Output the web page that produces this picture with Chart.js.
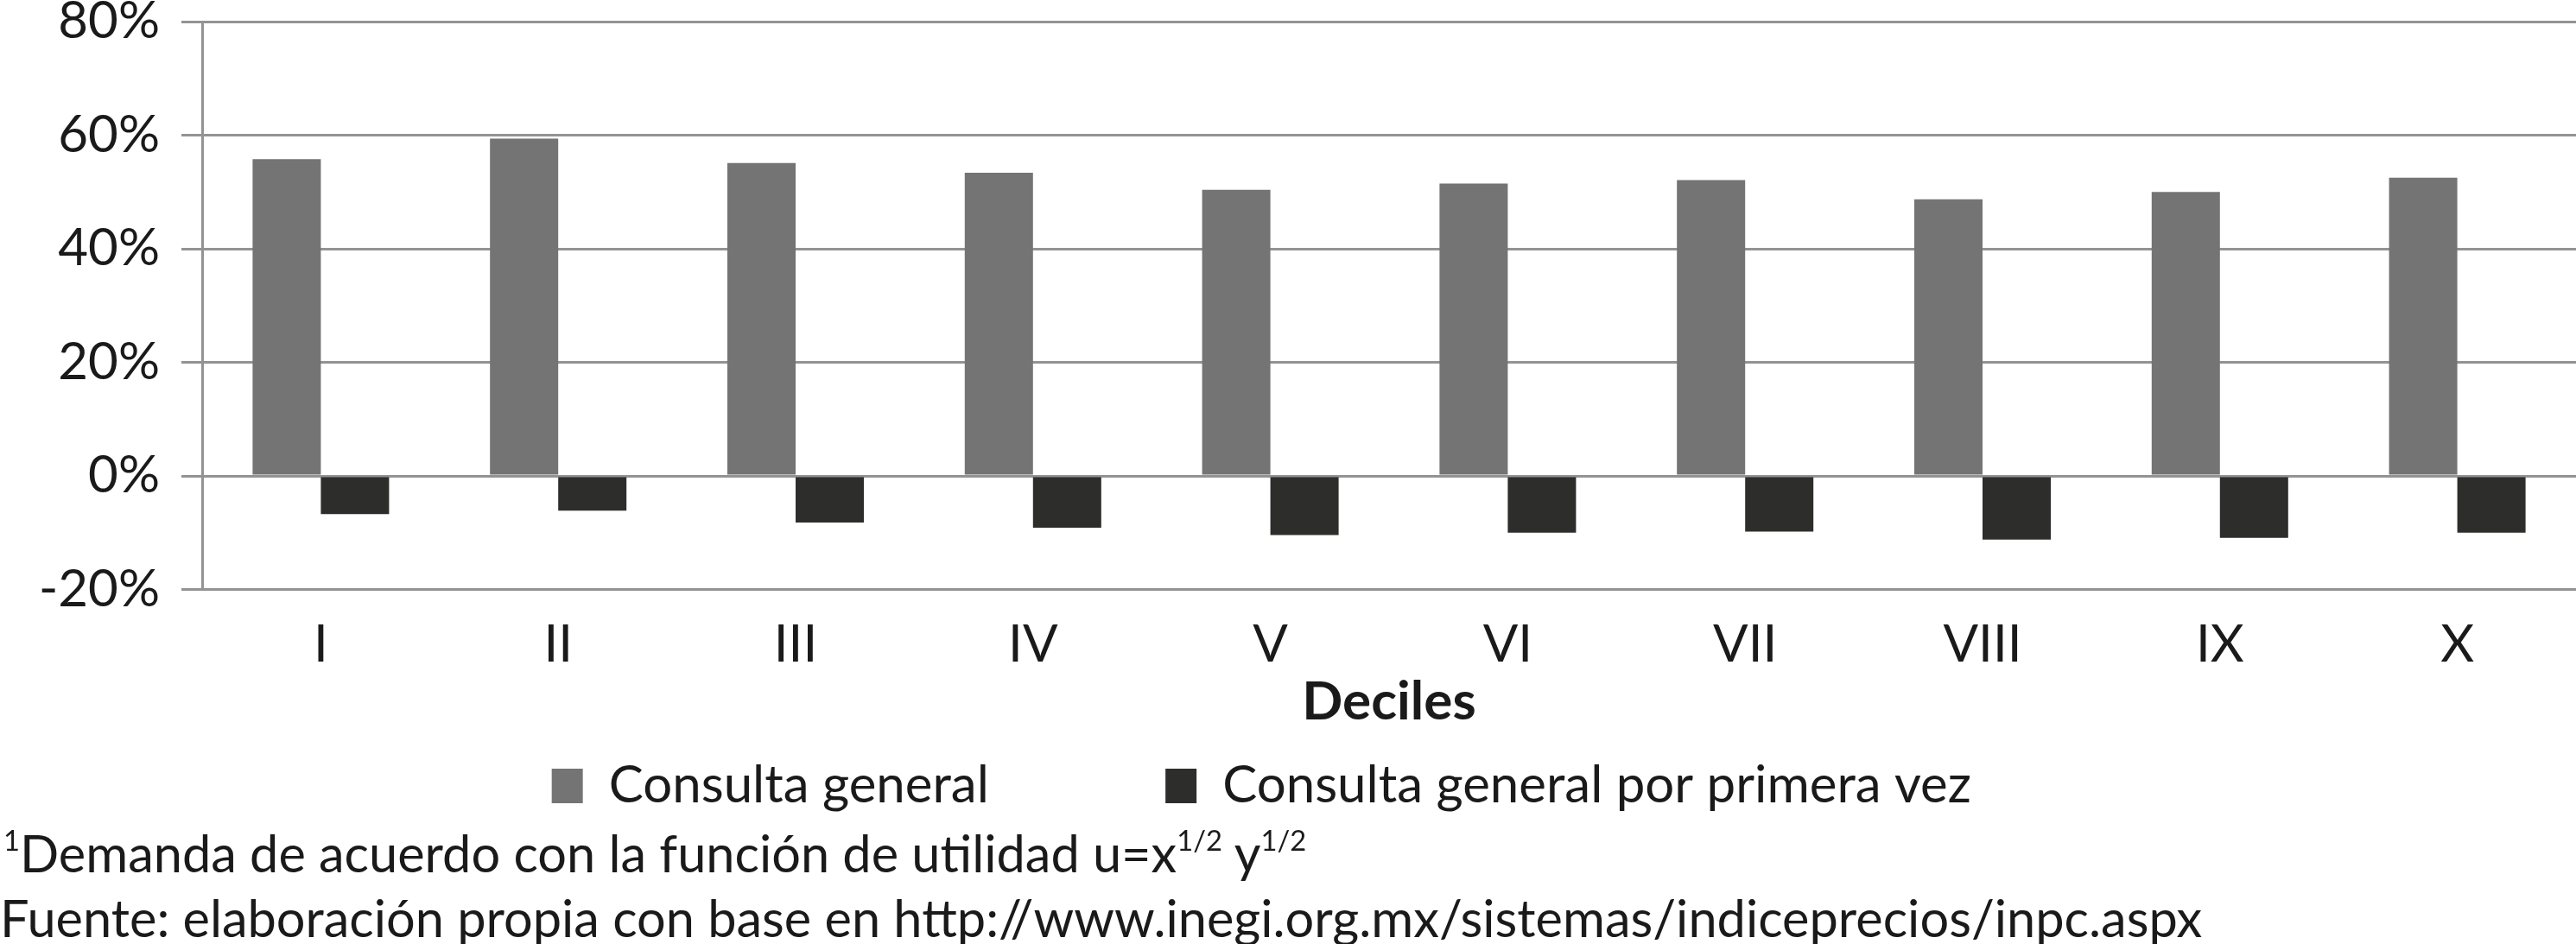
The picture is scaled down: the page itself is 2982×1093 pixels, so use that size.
<!DOCTYPE html>
<html>
<head>
<meta charset="utf-8">
<script src="https://cdn.jsdelivr.net/npm/chart.js@4"></script>
<style>
  html, body { margin: 0; padding: 0; background: #fff; overflow: hidden; }
  #wrap { position: relative; width: 2982px; height: 1093px; }
  .nota { position: absolute; left: 0; font-family: Lato, sans-serif; font-size: 59.5px; line-height: 59.5px; color: #1a1a1a; white-space: nowrap; }
  .nota sup { font-size: 55%; vertical-align: 0.75em; line-height: 0; }
</style>
</head>
<body>
<div id="wrap">
  <canvas id="grafica" width="2982" height="1093"></canvas>
  <div class="nota" style="top:958px; left:4px;"><sup>1</sup>Demanda de acuerdo con la función de utilidad u=x<sup>1/2</sup> y<sup>1/2</sup></div>
  <div class="nota" style="top:1033px;">Fuente: elaboración propia con base en http://www.inegi.org.mx/sistemas/indiceprecios/inpc.aspx</div>
</div>
<script>
// datos
const deciles = ["I", "II", "III", "IV", "V", "VI", "VII", "VIII", "IX", "X"];
const consultaGeneral = [55.8, 59.4, 55.1, 53.4, 50.4, 51.5, 52.1, 48.7, 50.0, 52.5];
const primeraVez = [-6.7, -6.1, -8.2, -9.1, -10.4, -10.0, -9.8, -11.2, -10.9, -10.0];
const yMin = -20, yMax = 80, yPaso = 20;

const colorGris = "#747474";
const colorNegro = "#2d2d2b";
const colorLinea = "#939393";
const colorTexto = "#1a1a1a";

Chart.defaults.font.family = "Lato, sans-serif";
Chart.defaults.color = colorTexto;

const ctx = document.getElementById("grafica").getContext("2d");

new Chart(ctx, {
    type: "bar",
    data: {
        labels: deciles,
        datasets: [
            { label: "Consulta general", data: consultaGeneral, backgroundColor: colorGris, borderWidth: 0 },
            { label: "Consulta general por primera vez", data: primeraVez, backgroundColor: colorNegro, borderWidth: 0 }
        ]
    },
    options: {
        responsive: false,
        maintainAspectRatio: false,
        animation: false,
        devicePixelRatio: 1,
        layout: { padding: { top: 0, left: 0, right: 0, bottom: 143 } },
        datasets: { bar: { categoryPercentage: 0.575, barPercentage: 1.0 } },
        plugins: {
            tooltip: { enabled: false },
            legend: {
                position: "bottom",
                labels: {
                    font: { size: 60 },
                    color: colorTexto,
                    boxWidth: 36,
                    boxHeight: 40,
                    padding: 20,
                    generateLabels(chart) {
                        const items = Chart.defaults.plugins.legend.labels.generateLabels(chart);
                        // separación amplia entre las dos entradas
                        items[0].text = items[0].text + "\u00a0".repeat(12);
                        items[1].text = items[1].text + "\u00a0".repeat(4);
                        items.forEach(it => { it.lineWidth = 0; });
                        return items;
                    }
                }
            }
        },
        scales: {
            x: {
                grid: { display: false },
                border: { display: false },
                ticks: { font: { size: 60 }, color: colorTexto, padding: 20 },
                title: {
                    display: true,
                    text: "Deciles",
                    font: { size: 62, weight: "bold" },
                    color: colorTexto,
                    padding: { top: -27, bottom: 10 }
                }
            },
            y: {
                min: yMin,
                max: yMax,
                afterFit(scale) { scale.width = 234; },
                ticks: {
                    stepSize: yPaso,
                    font: { size: 60, lineHeight: 0 },
                    color: colorTexto,
                    padding: 25,
                    callback: v => v + "%"
                },
                grid: { color: colorLinea, lineWidth: 3, tickLength: 24, tickColor: colorLinea },
                border: { display: true, color: colorLinea, width: 3 }
            }
        }
    }
});
</script>
</body>
</html>
